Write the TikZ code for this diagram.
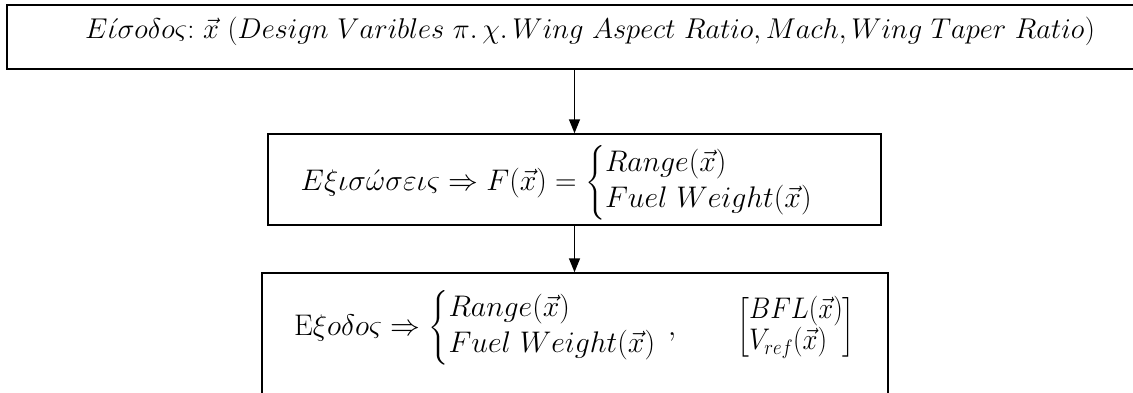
\RequirePackage{fix-cm}
\documentclass[tikz,border=0pt]{standalone}
\usepackage{amsmath}
\usetikzlibrary{arrows.meta}
\newcommand{\mycases}[1]{\left\{\renewcommand{\arraystretch}{1.2}\begin{array}{@{}l@{}}#1\end{array}\right.}
\begin{document}
\begin{tikzpicture}[x=1pt,y=-1pt,
  box/.style={draw, line width=1.5pt, rectangle, inner sep=0pt},
  txt/.style={inner sep=0pt, font=\fontsize{29.8}{30}\selectfont},
  arr/.style={line width=1.5pt, -{Triangle[length=14pt,width=11pt]}}]
\clip (0,0) rectangle (1133,392);
\node[box, line width=1.8pt, minimum width=1174pt, minimum height=64pt] (top) at (594,37) {};
\node[box, minimum width=613pt, minimum height=91pt] (mid) at (574.5,179.5) {};
\node[box, minimum width=626pt, minimum height=160pt] (bot) at (575,353) {};
\draw[arr] (top.south -| mid.north) -- (mid.north);
\draw[arr] (mid.south) -- (mid.south |- bot.north);
\node[txt, font=\fontsize{28.6}{30}\selectfont, anchor=base west] (toptxt) at (85,38)
  {$E\acute{\iota}\sigma o\delta o\varsigma{:}\ \vec{x}\ (Design\ Varibles\ \pi.\,\chi.\,Wing\ Aspect\ Ratio, Mach, Wing\ Taper\ Ratio)$};
\node[txt, anchor=base east] (midtxt) at (813,190)
  {$E\xi\iota\sigma\acute{\omega}\sigma\varepsilon\iota\varsigma \Rightarrow F(\vec{x}) = \mycases{Range(\vec{x})\\ Fuel\ Weight(\vec{x})}$};
\node[txt, anchor=base west] (bottxt) at (294,335)
  {$\mathrm{E}\xi o\delta o\varsigma \Rightarrow \mycases{Range(\vec{x})\\ Fuel\ Weight(\vec{x})}$};
\node[txt, anchor=base west] (comma) at (668,335) {$,$};
\node[txt, anchor=base west] (vec) at (737,335)
  {\scalebox{0.9}[1]{$\left[\begin{array}{@{}l@{}} BFL(\vec{x})\\ V_{ref}(\vec{x})\end{array}\right]$}};
\end{tikzpicture}
\end{document}
